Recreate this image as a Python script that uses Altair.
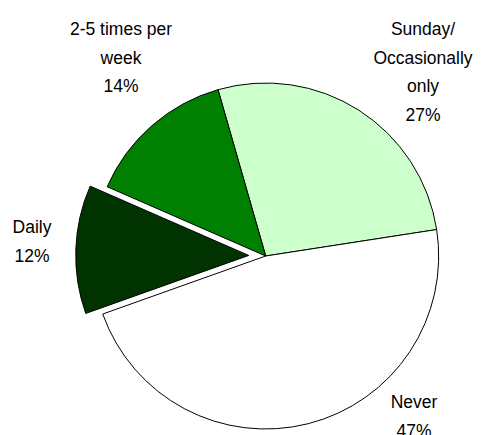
import altair as alt
import pandas as pd
import math

categories = ["Sunday/Occasionally only", "Never", "Daily", "2-5 times per week"]
label_text = ["Sunday/\nOccasionally\nonly", "Never", "Daily", "2-5 times per\nweek"]
values = [27, 47, 12, 14]
colors = ["#CCFFCC", "#FFFFFF", "#003300", "#008000"]

df = pd.DataFrame({"cat": categories, "lab": label_text, "val": values})
df["end"] = df["val"].cumsum()
df["start"] = df["end"] - df["val"]
df["label"] = df["lab"] + "\n" + df["val"].astype(str) + "%"

W, H = 466, 427
CX, CY, R = 257.7, 248.0, 173
START = math.radians(344)
EXPLODE = 17
mid_daily = START + 2 * math.pi * (df.loc[2, "start"] + df.loc[2, "val"] / 2) / 100
DX = EXPLODE * math.sin(mid_daily)
DY = -EXPLODE * math.cos(mid_daily)

theta_scale = alt.Scale(domain=[0, 100], range=[START, START + 2 * math.pi])
color_scale = alt.Scale(domain=categories, range=colors)

base = alt.Chart(df)

pie_main = base.transform_filter(alt.datum.cat != "Daily").mark_arc(
    stroke="black", strokeWidth=1
).encode(
    theta=alt.Theta("start:Q", scale=theta_scale),
    theta2="end:Q",
    color=alt.Color("cat:N", scale=color_scale, legend=None),
    x=alt.value(CX), y=alt.value(CY), radius=alt.value(R),
)

pie_daily = base.transform_filter(alt.datum.cat == "Daily").mark_arc(
    stroke="black", strokeWidth=1
).encode(
    theta=alt.Theta("start:Q", scale=theta_scale),
    theta2="end:Q",
    color=alt.Color("cat:N", scale=color_scale, legend=None),
    x=alt.value(CX + DX), y=alt.value(CY + DY), radius=alt.value(R),
)

label_pos = {
    "Sunday/Occasionally only": (415, 27),
    "Never": (406, 400),
    "Daily": (24, 225),
    "2-5 times per week": (113, 27),
}

texts = []
for c, (lx, ly) in label_pos.items():
    texts.append(
        base.transform_filter(alt.datum.cat == c).mark_text(
            font="Liberation Sans, Arial",
            fontSize=17.5, lineBreak="\n", lineHeight=28.5, align="center",
            baseline="alphabetic", color="black",
        ).encode(text="label:N", x=alt.value(lx), y=alt.value(ly))
    )

chart = alt.layer(pie_main, pie_daily, *texts).properties(
    width=W, height=H, padding=0, autosize=alt.AutoSizeParams(type="none"),
    background="white",
).configure_view(stroke=None)

chart.save("out.html", embed_options={"renderer": "svg", "actions": False})
